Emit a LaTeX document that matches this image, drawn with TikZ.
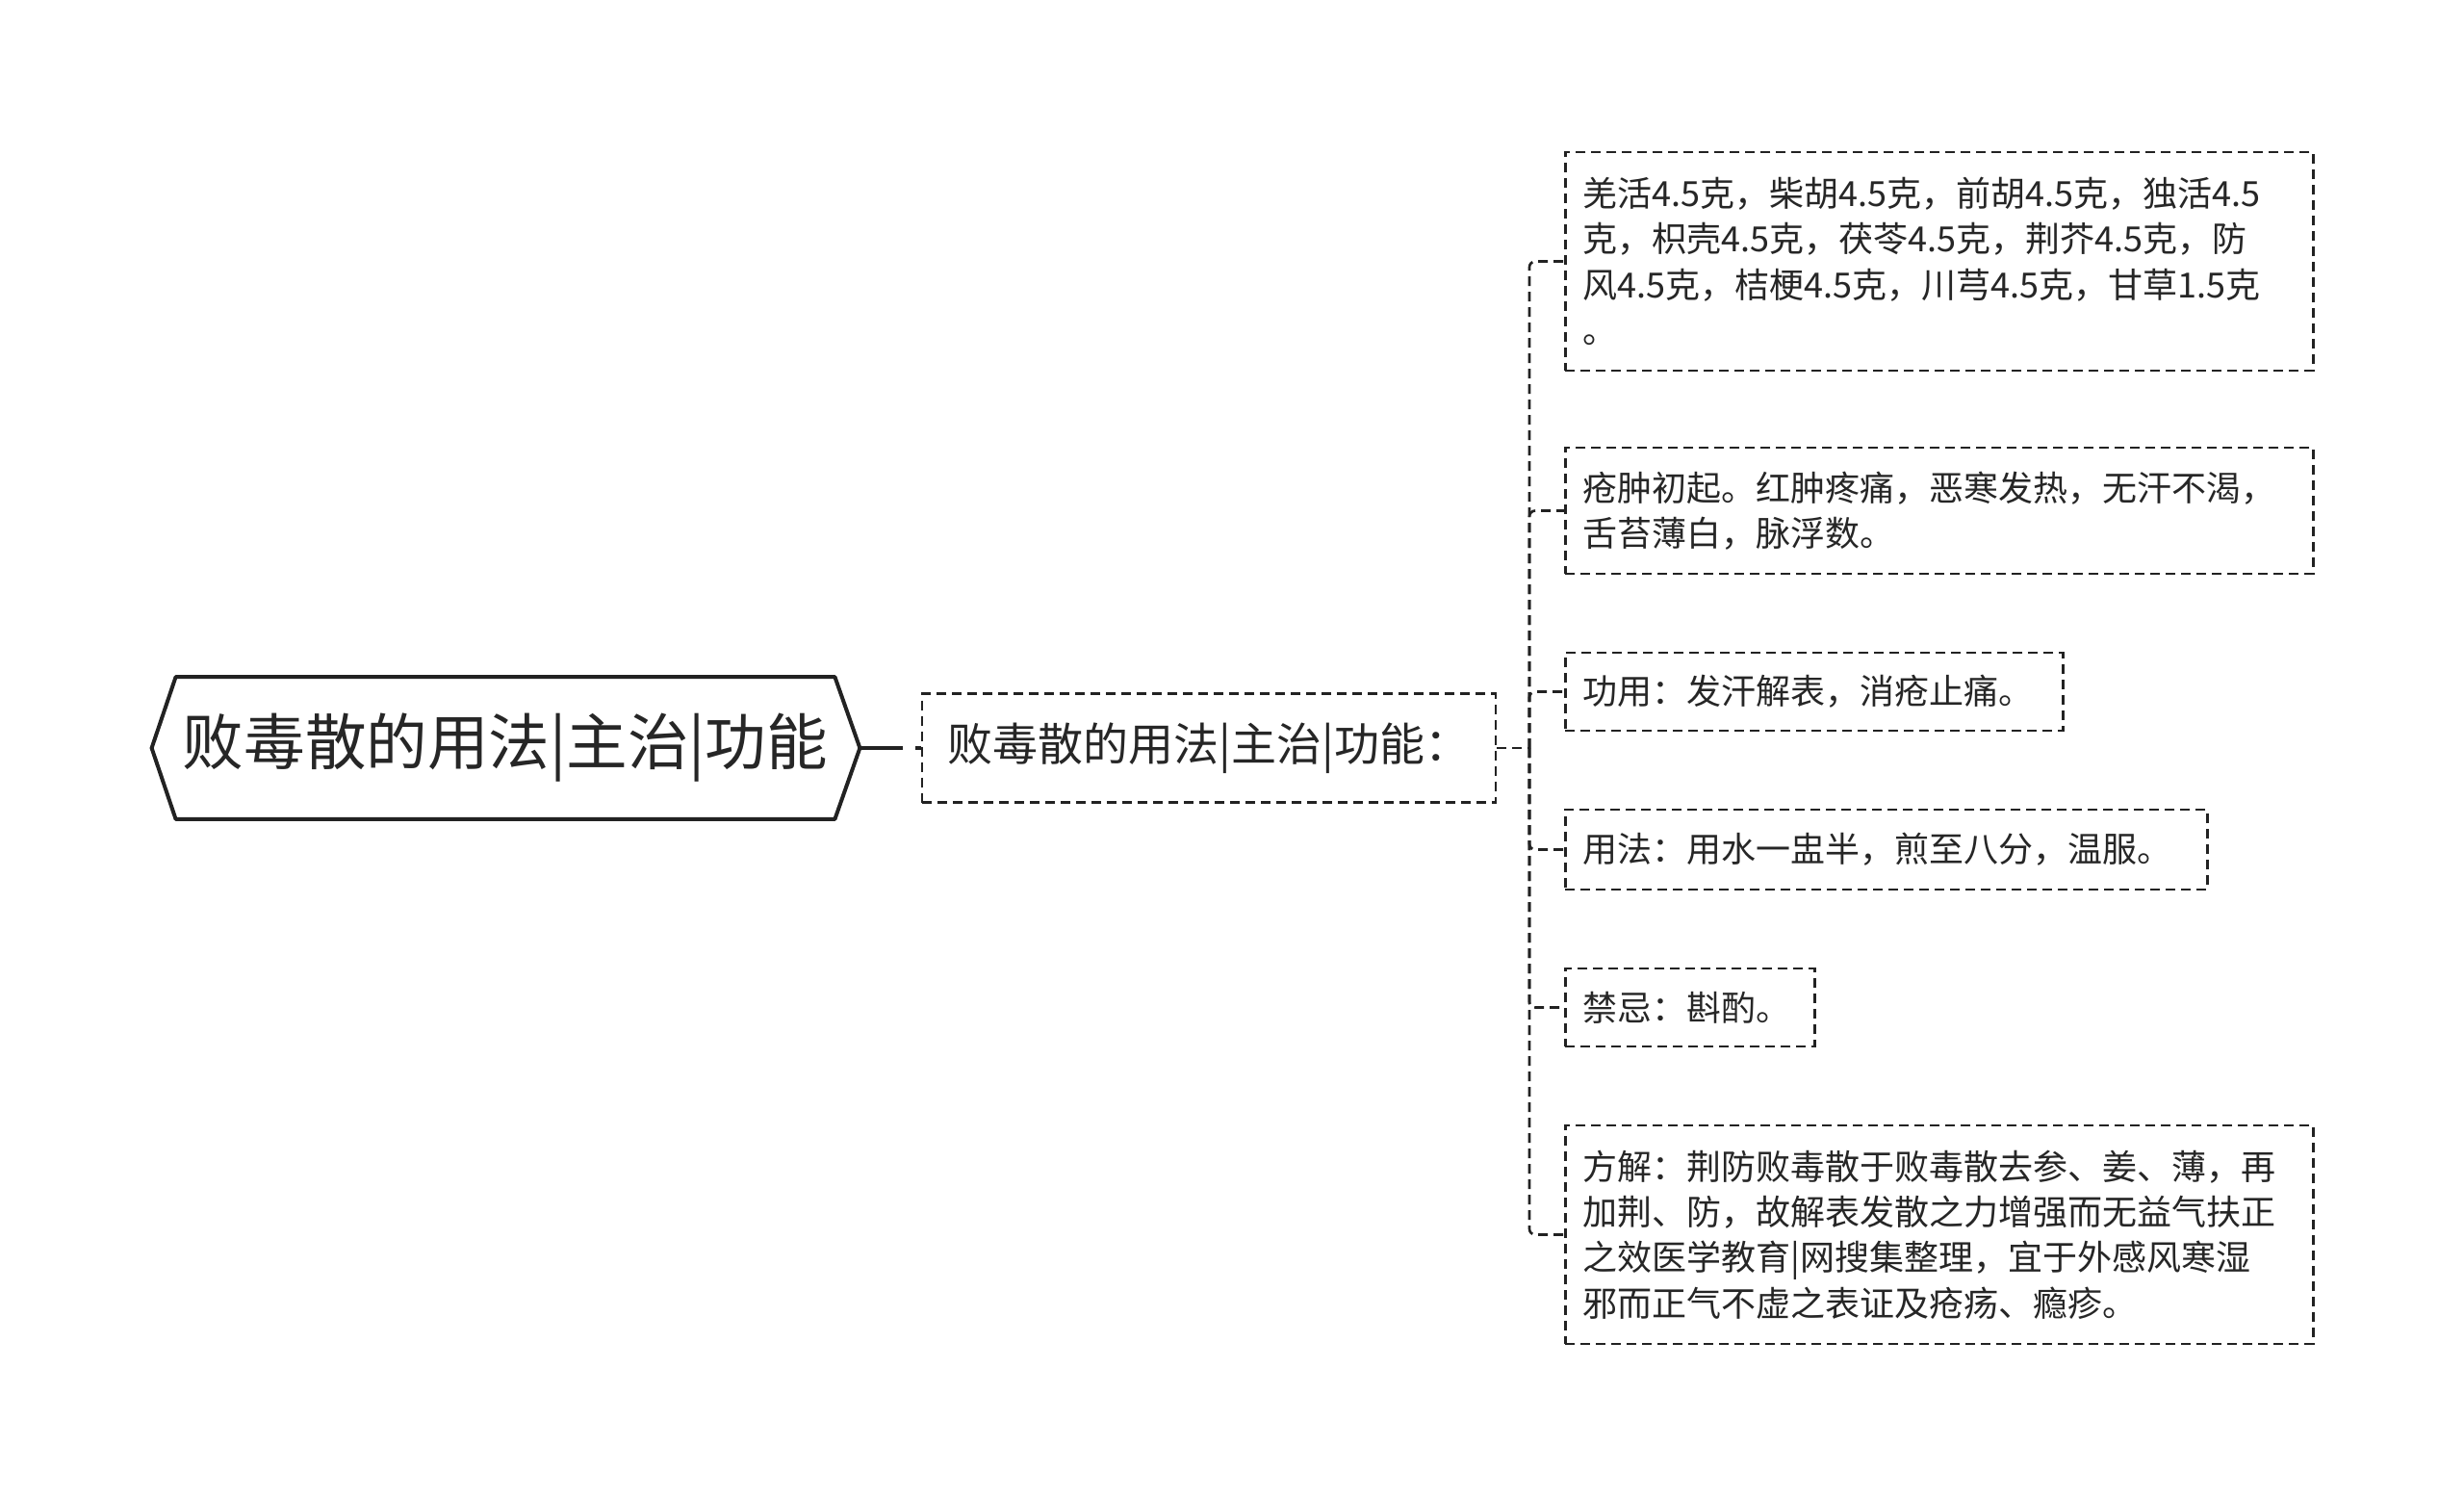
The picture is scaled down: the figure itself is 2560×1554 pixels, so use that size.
\documentclass[tikz,border=0pt]{standalone}
\usepackage{fontspec}
\setmainfont{Noto Sans CJK SC}
\definecolor{lc}{HTML}{222222}
\definecolor{tc}{HTML}{262626}
\begin{document}
\begin{tikzpicture}[x=0.5pt,y=-0.5pt,
  conn/.style={draw=lc, line width=1.3pt, dash pattern=on 5pt off 3pt},
  box/.style={draw=lc, line width=1.3pt, dash pattern=on 5pt off 3pt, inner xsep=9pt, inner ysep=0pt, anchor=west, align=left, font=\fontsize{18}{23.7}\selectfont, text=tc},
]
\useasboundingbox[fill=white] (0,0) rectangle (2560,1554);

% root
\node[minimum width=342pt, minimum height=73.5pt, inner sep=0pt, font=\fontsize{31.8}{36}\selectfont, text=tc] (root) at (525,777) {败毒散的用法|主治|功能};
\draw[lc, line width=2pt, line join=round] (root.north west) -- (root.north east) -- ([xshift=13pt]root.east) -- (root.south east) -- (root.south west) -- ([xshift=-12.5pt]root.west) -- cycle;
\coordinate (roottip) at ([xshift=13pt]root.east);

% middle
\node[draw=lc, line width=1.3pt, dash pattern=on 5pt off 3pt, minimum width=298pt, minimum height=56.5pt, inner sep=0pt, font=\fontsize{23.5}{28}\selectfont, text=tc] (mid) at (1256,777) {败毒散的用法|主治|功能：};
\draw[lc, line width=1.6pt, dash pattern=on 22.5pt off 6.5pt on 4pt off 20pt] (roottip) -- (mid.west);

% children
\node[box, text width=370.5pt, minimum height=113.5pt] (c1) at (1625,271.5) {羌活4.5克，柴胡4.5克，前胡4.5克，独活4.5\\克，枳壳4.5克，茯苓4.5克，荆芥4.5克，防\\风4.5克，桔梗4.5克，川芎4.5克，甘草1.5克\\。};
\node[box, text width=370.5pt, minimum height=65.5pt] (c2) at (1625,530.5) {疮肿初起。红肿疼痛，恶寒发热，无汗不渴，\\舌苔薄白，脉浮数。};
\node[box, text width=240.5pt, minimum height=40.5pt] (c3) at (1625,718.5) {功用：发汗解表，消疮止痛。};
\node[box, text width=315.5pt, minimum height=41.5pt] (c4) at (1625,882.5) {用法：用水一盅半，煎至八分，温服。};
\node[box, text width=111.5pt, minimum height=40.5pt] (c5) at (1625,1046.5) {禁忌：斟酌。};
\node[box, text width=370.5pt, minimum height=113.5pt] (c6) at (1625,1282.5) {方解：荆防败毒散于败毒散去参、姜、薄，再\\加荆、防，故解表发散之力增强而无益气扶正\\之效医学教育|网搜集整理，宜于外感风寒湿\\邪而正气不虚之表证及疮疡、瘾疹。};

% connectors
\coordinate (tr) at (1589,777);
\draw[conn] (mid.east) -- (tr);
\foreach \c in {c1,c2,c3,c4,c5,c6}
  \draw[conn, rounded corners=3pt] (tr) |- (\c.west);
\end{tikzpicture}
\end{document}
